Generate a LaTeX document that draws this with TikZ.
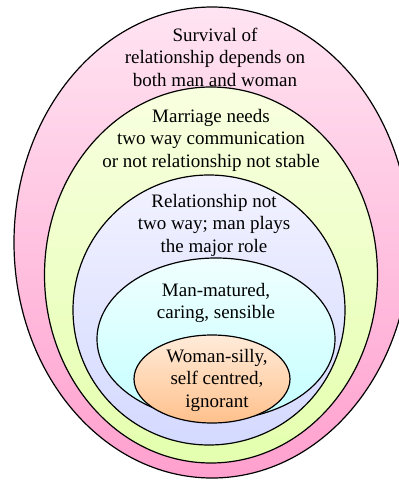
\documentclass[tikz,border=0pt]{standalone}
\usepackage{fontspec}
\setmainfont{Liberation Serif}
\definecolor{pinkTop}{HTML}{FFE4F2}
\definecolor{pinkBot}{HTML}{FFA0CE}
\definecolor{greenTop}{HTML}{F8FFE0}
\definecolor{greenBot}{HTML}{E4FFAE}
\definecolor{lavTop}{HTML}{F2F2FF}
\definecolor{lavBot}{HTML}{D4D9FF}
\definecolor{cyanTop}{HTML}{F0FFFF}
\definecolor{cyanBot}{HTML}{C4FFFF}
\definecolor{orangeTop}{HTML}{FFECDA}
\definecolor{orangeBot}{HTML}{FFC08C}
\begin{document}
\begin{tikzpicture}[x=1pt, y=1pt, ring/.style={draw=black, line width=1.2pt}, ringtext/.style={align=center, inner sep=0pt, font=\fontsize{19}{22.5}\selectfont}]
  \useasboundingbox (0,0) rectangle (399,-480);
  \clip (0,0) rectangle (399,-480);
  % rings, outside in
  \draw[ring, top color=pinkTop, bottom color=pinkBot] (212,-242.5) ellipse (198 and 235.5);
  \draw[ring, top color=greenTop, bottom color=greenBot] (211,-275) ellipse (166.5 and 188);
  \draw[ring, top color=lavTop, bottom color=lavBot] (209,-310) ellipse (136 and 135);
  \draw[ring, top color=cyanTop, bottom color=cyanBot] (216,-339) ellipse (119 and 81);
  \draw[ring, top color=orangeTop, bottom color=orangeBot] (212,-379) ellipse (78 and 44);
  % texts
  \node[ringtext] (survival) at (215,-57) {Survival of\\relationship depends on\\both man and woman};
  \node[ringtext] (marriage) at (211,-140) {Marriage needs\\two way communication\\or not relationship not stable};
  \node[ringtext] (oneway) at (214,-225) {Relationship not\\two way; man plays\\the major role};
  \node[ringtext] (man) at (216,-303) {Man-matured,\\caring, sensible};
  \node[ringtext] (woman) at (217,-380) {Woman-silly,\\self centred,\\ignorant};
\end{tikzpicture}
\end{document}
